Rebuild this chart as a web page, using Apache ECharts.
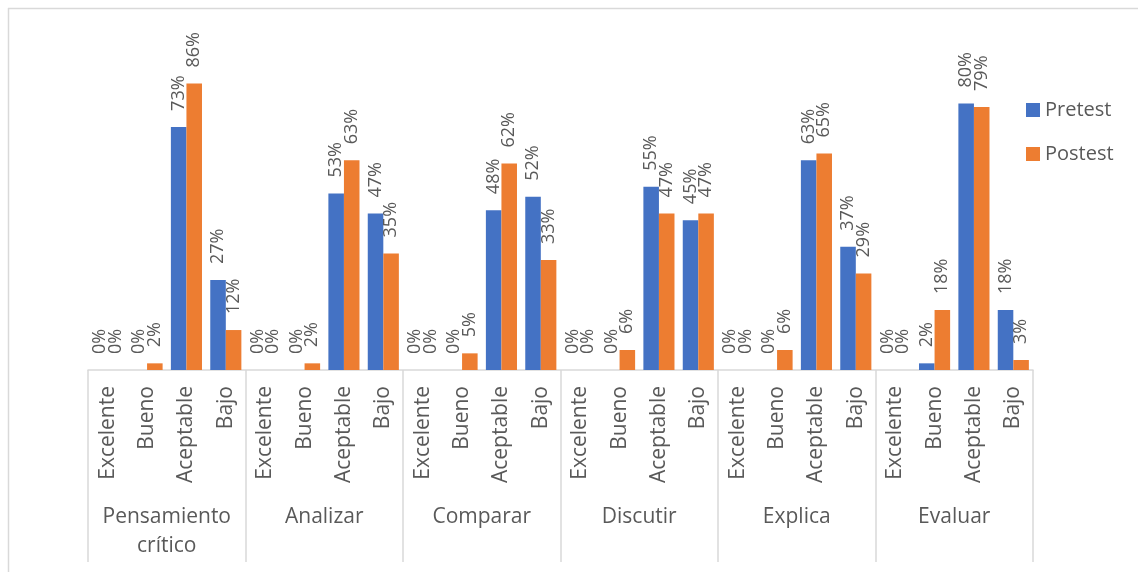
<!DOCTYPE html>
<html>
<head>
<meta charset="utf-8">
<script src="https://cdn.jsdelivr.net/npm/echarts@6/dist/echarts.min.js"></script>
<style>
  html, body { margin: 0; padding: 0; background: #fff; }
  #chart { width: 1138px; height: 572px; }
</style>
</head>
<body>
<div id="chart"></div>
<script>
// chart data
const groups = ['Pensamiento\ncrítico', 'Analizar', 'Comparar', 'Discutir', 'Explica', 'Evaluar']
const levels = ['Excelente', 'Bueno', 'Aceptable', 'Bajo']
const pretest = [
  0, 0, 73, 27,
  0, 0, 53, 47,
  0, 0, 48, 52,
  0, 0, 55, 45,
  0, 0, 63, 37,
  0, 2, 80, 18
]
const postest = [
  0, 2, 86, 12,
  0, 2, 63, 35,
  0, 5, 62, 33,
  0, 6, 47, 47,
  0, 6, 65, 29,
  0, 18, 79, 3
]

const categories = []
groups.forEach(() => levels.forEach(l => categories.push(l)))

const font = 'Open Sans'
const textColor = '#595959'
const gridColor = '#d9d9d9'

const barLabel = {
  show: true,
  position: 'top',
  rotate: 90,
  align: 'left',
  verticalAlign: 'middle',
  distance: 16,
  fontFamily: font,
  fontSize: 18,
  color: textColor,
  formatter: p => p.value + '%'
}

let chart = echarts.init(document.getElementById('chart'))
chart.setOption({
  animation: false,
  color: ['#4472c4', '#ed7d31'],
  textStyle: { fontFamily: font },
  graphic: [
    { type: 'line', shape: { x1: 8, y1: 8.5, x2: 1138, y2: 8.5 }, style: { stroke: gridColor, lineWidth: 1.5 } },
    { type: 'line', shape: { x1: 8.5, y1: 8, x2: 8.5, y2: 572 }, style: { stroke: gridColor, lineWidth: 1.5 } }
  ],
  legend: {
    orient: 'vertical',
    left: 1026,
    top: 100,
    padding: 0,
    itemWidth: 14,
    itemHeight: 14,
    itemGap: 24,
    icon: 'rect',
    textStyle: { fontFamily: font, fontSize: 20, color: textColor },
    data: ['Pretest', 'Postest']
  },
  grid: {
    left: 88,
    right: 105,
    top: 37,
    bottom: 202
  },
  xAxis: [
    {
      type: 'category',
      data: categories,
      axisLine: { lineStyle: { color: gridColor, width: 1.5 } },
      axisTick: { show: false },
      axisLabel: {
        interval: 0,
        rotate: 90,
        margin: 16,
        fontFamily: font,
        fontSize: 21,
        color: textColor
      }
    },
    {
      type: 'category',
      position: 'bottom',
      data: groups,
      axisLine: { show: false },
      axisTick: { show: true, length: 192, lineStyle: { color: gridColor, width: 1.5 } },
      axisLabel: {
        interval: 0,
        margin: 133,
        lineHeight: 29,
        fontFamily: font,
        fontSize: 21,
        color: textColor
      }
    }
  ],
  yAxis: {
    type: 'value',
    min: 0,
    max: 100,
    show: false
  },
  series: [
    {
      name: 'Pretest',
      type: 'bar',
      barGap: '0%',
      barCategoryGap: '21%',
      data: pretest,
      label: barLabel
    },
    {
      name: 'Postest',
      type: 'bar',
      barGap: '0%',
      barCategoryGap: '21%',
      data: postest,
      label: barLabel
    }
  ]
})
</script>
</body>
</html>
